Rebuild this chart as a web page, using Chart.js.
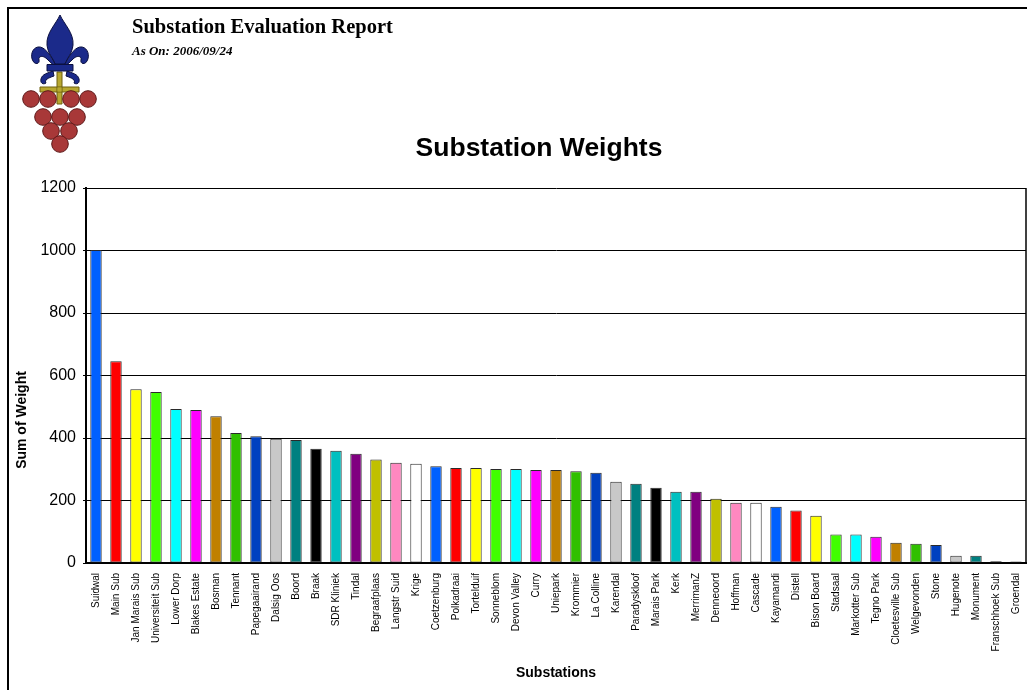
<!DOCTYPE html>
<html>
<head>
<meta charset="utf-8">
<title>Substation Evaluation Report</title>
<script src="https://cdn.jsdelivr.net/npm/chart.js@4.4.1/dist/chart.umd.min.js"></script>
<style>
  html, body { margin: 0; padding: 0; background: #fff; }
  canvas { display: block; }
</style>
</head>
<body>
<canvas id="chart" width="1027" height="690"></canvas>
<script>
// Substation names, in report order (sorted by weight)
const substations = [
  'Suidwal', 'Main Sub', 'Jan Marais Sub', 'Universiteit Sub', 'Lower Dorp',
  'Blakes Estate', 'Bosman', 'Tennant', 'Papegaairand', 'Dalsig Oos',
  'Boord', 'Braak', 'SDR Kliniek', 'Tindal', 'Begraafplaas',
  'Langstr Suid', 'Krige', 'Coetzenburg', 'Polkadraai', 'Tortelduif',
  'Sonneblom', 'Devon Valley', 'Curry', 'Uniepark', 'Krommier',
  'La Colline', 'Karendal', 'Paradyskloof', 'Marais Park', 'Kerk',
  'MerrimanZ', 'Denneoord', 'Hoffman', 'Cascade', 'Kayamandi',
  'Distell', 'Bison Board', 'Stadsaal', 'Markotter Sub', 'Tegno Park',
  'Cloetesville Sub', 'Welgevonden', 'Stone', 'Hugenote', 'Monument',
  'Franschhoek Sub', 'Groendal'
];

// Sum of weight per substation
const weights = [
  1002, 646, 556, 547, 493,
  490, 470, 416, 406, 398,
  394, 366, 359, 350, 331,
  321, 318, 310, 304, 304,
  301, 301, 298, 298, 294,
  289, 260, 254, 241, 228,
  228, 206, 193, 193, 180,
  168, 151, 91, 91, 84,
  65, 62, 58, 23, 23,
  6, 5
];

// Value axis tick labels
const yTicks = [0, 200, 400, 600, 800, 1000, 1200];

// Bar colour cycle
const palette = [
  '#0060ff', '#ff0000', '#ffff00', '#40ff00', '#00ffff', '#ff00ff',
  '#c08000', '#30c000', '#0040c0', '#c8c8c8', '#008080', '#000000',
  '#00c0c0', '#800080', '#c0c000', '#ff88c0', '#ffffff'
];

const SANS = '"Liberation Sans", Arial, sans-serif';
const SERIF = '"Liberation Serif", "Times New Roman", serif';

function drawLogo(ctx) {
  ctx.save();
  ctx.lineJoin = 'round';

  // gold cross
  ctx.fillStyle = '#b8a830';
  ctx.strokeStyle = '#6e6010';
  ctx.lineWidth = 1;
  ctx.beginPath();
  ctx.rect(57, 72, 5, 32);
  ctx.rect(40, 87, 39, 5);
  ctx.fill();
  ctx.stroke();
  ctx.fillRect(57.5, 87.5, 4, 4);

  // fleur-de-lis
  ctx.fillStyle = '#1b2a8a';
  ctx.strokeStyle = '#0b1040';
  ctx.lineWidth = 1;

  // central petal
  ctx.beginPath();
  ctx.moveTo(60, 15);
  ctx.bezierCurveTo(56, 24, 46, 33, 47, 45);
  ctx.bezierCurveTo(48, 54, 53, 58, 55, 64);
  ctx.lineTo(65, 64);
  ctx.bezierCurveTo(67, 58, 72, 54, 73, 45);
  ctx.bezierCurveTo(74, 33, 64, 24, 60, 15);
  ctx.closePath();
  ctx.fill();
  ctx.stroke();

  const sidePieces = function () {
    // side petal curling outwards and down
    ctx.beginPath();
    ctx.moveTo(55, 64);
    ctx.bezierCurveTo(50, 54, 44, 46, 38, 47);
    ctx.bezierCurveTo(32, 48, 30, 56, 33, 61);
    ctx.bezierCurveTo(35, 65, 40, 64, 39, 60);
    ctx.bezierCurveTo(38, 56, 43, 55, 47, 59);
    ctx.bezierCurveTo(50, 62, 52, 64, 55, 66);
    ctx.closePath();
    ctx.fill();
    ctx.stroke();
    // lower curl under the band
    ctx.beginPath();
    ctx.moveTo(53, 71);
    ctx.bezierCurveTo(48, 73, 42, 74, 41, 79);
    ctx.bezierCurveTo(40, 83, 43, 85, 46, 83);
    ctx.bezierCurveTo(44, 80, 48, 78, 54, 76);
    ctx.closePath();
    ctx.fill();
    ctx.stroke();
  };
  sidePieces();
  ctx.save();
  ctx.translate(120, 0);
  ctx.scale(-1, 1);
  sidePieces();
  ctx.restore();

  // band across the stem
  ctx.beginPath();
  ctx.rect(47, 64.5, 26, 6.5);
  ctx.fill();
  ctx.stroke();

  // grape cluster
  const grapes = [
    [31, 99], [48, 99], [71, 99], [88, 99],
    [43, 117], [60, 117], [77, 117],
    [51, 131], [69, 131],
    [60, 144]
  ];
  grapes.forEach(function (g) {
    ctx.beginPath();
    ctx.arc(g[0], g[1], 8.3, 0, Math.PI * 2);
    ctx.fillStyle = '#a83838';
    ctx.fill();
    ctx.strokeStyle = '#5e1818';
    ctx.lineWidth = 1;
    ctx.stroke();
  });
  ctx.restore();
}

const decorations = {
  id: 'reportDecorations',
  beforeDraw(chart) {
    const ctx = chart.ctx;
    ctx.save();
    ctx.fillStyle = '#ffffff';
    ctx.fillRect(0, 0, chart.width, chart.height);
    ctx.restore();
  },
  afterDraw(chart) {
    const ctx = chart.ctx;
    const area = chart.chartArea;
    ctx.save();

    // page frame
    ctx.strokeStyle = '#000';
    ctx.lineWidth = 2;
    ctx.beginPath();
    ctx.moveTo(8, chart.height + 2);
    ctx.lineTo(8, 8);
    ctx.lineTo(chart.width + 2, 8);
    ctx.stroke();

    // right edge of the plot area
    ctx.lineWidth = 1.5;
    ctx.beginPath();
    ctx.moveTo(area.right, area.top);
    ctx.lineTo(area.right, area.bottom);
    ctx.stroke();

    drawLogo(ctx);

    // report header
    ctx.fillStyle = '#000';
    ctx.textAlign = 'left';
    ctx.textBaseline = 'alphabetic';
    ctx.font = 'bold 20.5px ' + SERIF;
    ctx.fillText('Substation Evaluation Report', 132, 33);
    ctx.font = 'italic bold 13px ' + SERIF;
    ctx.fillText('As On: 2006/09/24', 132, 55);

    // chart title
    ctx.textAlign = 'center';
    ctx.font = 'bold 26.5px ' + SANS;
    ctx.fillText('Substation Weights', 539, 156);

    // axis titles
    ctx.font = 'bold 14px ' + SANS;
    ctx.textBaseline = 'middle';
    ctx.fillText('Substations', (area.left + area.right) / 2, 673);
    ctx.save();
    ctx.translate(22, 420);
    ctx.rotate(-Math.PI / 2);
    ctx.fillText('Sum of Weight', 0, 0);
    ctx.restore();

    ctx.restore();
  }
};

new Chart(document.getElementById('chart'), {
  type: 'bar',
  data: {
    labels: substations,
    datasets: [{
      label: 'Sum of Weight',
      data: weights,
      backgroundColor: weights.map(function (v, i) { return palette[i % palette.length]; }),
      borderColor: '#2a2a2a',
      borderWidth: 1,
      borderSkipped: false,
      categoryPercentage: 1,
      barPercentage: 0.57
    }]
  },
  options: {
    responsive: false,
    devicePixelRatio: 1,
    animation: false,
    layout: { padding: { top: 188, right: 1, bottom: 0, left: 0 } },
    plugins: {
      legend: { display: false },
      title: { display: false },
      tooltip: { enabled: false }
    },
    scales: {
      x: {
        afterFit(scale) {
          scale.height = 127;
          scale.paddingLeft = 0;
          scale.paddingRight = 0;
        },
        grid: { display: false, drawTicks: false },
        border: { display: true, color: '#000', width: 2 },
        ticks: {
          autoSkip: false,
          maxRotation: 90,
          minRotation: 90,
          padding: 10,
          color: '#000',
          font: { family: SANS, size: 10 }
        }
      },
      y: {
        min: 0,
        max: 1200,
        afterFit(scale) { scale.width = 86; },
        afterBuildTicks(scale) {
          scale.ticks = yTicks.map(function (v) { return { value: v }; });
        },
        grid: { color: '#000', lineWidth: 1, tickLength: 3, drawTicks: true },
        border: { display: true, color: '#000', width: 2 },
        ticks: {
          padding: 7,
          color: '#000',
          font: { family: SANS, size: 16 },
          callback(value) { return String(value); }
        }
      }
    }
  },
  plugins: [decorations]
});
</script>
</body>
</html>
